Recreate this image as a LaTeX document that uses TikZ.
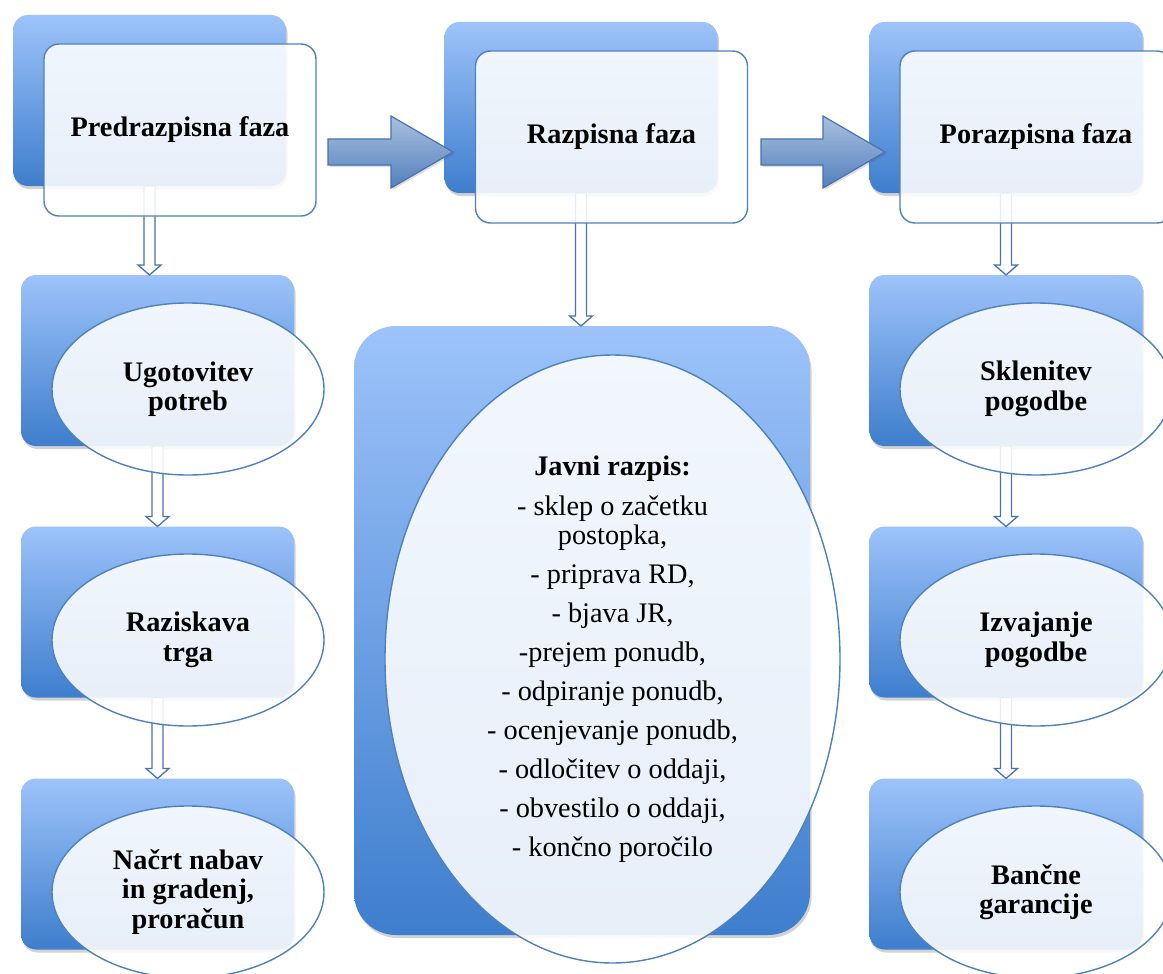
\documentclass[tikz,border=0pt]{standalone}
\usepackage{fontspec}
\setmainfont{Liberation Serif}
\usetikzlibrary{calc,shadows,shapes.geometric}

\definecolor{bgtop}{RGB}{157,195,250}
\definecolor{bgbot}{RGB}{62,126,205}
\definecolor{edgeblue}{RGB}{79,129,189}
\definecolor{arrtop}{RGB}{170,193,222}
\definecolor{arrbot}{RGB}{82,127,190}
\definecolor{arredge}{RGB}{72,114,176}

% wide block arrow between two points on one line
\newcommand{\blockarrow}[2]{%
  \draw[blockarr] ($(#1)+(0,-13)$) -- ($(#2)+(-62,-13)$) -- ($(#2)+(-62,-36)$)
    -- (#2) -- ($(#2)+(-62,36)$) -- ($(#2)+(-62,13)$) -- ($(#1)+(0,13)$) -- cycle;}
% thin hollow arrow pointing down
\newcommand{\hollowarrow}[2]{%
  \draw[hollowarr] ($(#1)+(-5.5,0)$) -- ($(#2)+(-5.5,-10)$) -- ($(#2)+(-11.5,-10)$)
    -- (#2) -- ($(#2)+(11.5,-10)$) -- ($(#2)+(5.5,-10)$) -- ($(#1)+(5.5,0)$) -- cycle;}

\begin{document}
\begin{tikzpicture}[x=1pt, y=-1pt, font=\fontsize{28.3}{29.5}\selectfont\bfseries,
  every node/.style={align=center, inner sep=0pt, outer sep=0pt},
  bgbox/.style={rounded corners=15pt, top color=bgtop, bottom color=bgbot,
    minimum width=273pt, minimum height=171pt,
    drop shadow={shadow xshift=1.5pt, shadow yshift=-3pt, opacity=.25, fill=black!70}},
  card/.style={draw=edgeblue, line width=1.4pt, rounded corners=15pt, fill=white,
    fill opacity=.88, text opacity=1, minimum width=272pt, minimum height=172pt},
  oval/.style={ellipse, draw=edgeblue, line width=1.4pt, fill=white,
    fill opacity=.88, text opacity=1, minimum width=272pt, minimum height=172pt},
  blockarr/.style={draw=arredge, line width=1.2pt, top color=arrtop, bottom color=arrbot,
    drop shadow={shadow xshift=1.5pt, shadow yshift=-2pt, opacity=.2, fill=black!70}},
  hollowarr/.style={draw=arredge, line width=1.3pt, fill=white}]

  \useasboundingbox (0,0) rectangle (1163,974);
  \fill[white] (0,0) rectangle (1163,974);
  \clip (0,0) rectangle (1163,974);

  % background boxes
  \node[bgbox] (predbg) at (149.5,100.5) {};
  \node[bgbox] (razbg) at (581,107.5) {};
  \node[bgbox] (porbg) at (1006,107.5) {};
  \node[bgbox] (ugbg) at (157.5,360.5) {};
  \node[bgbox] (trbg) at (157.5,612) {};
  \node[bgbox] (nacbg) at (157.5,864) {};
  \node[bgbox, rounded corners=42pt, minimum width=456pt, minimum height=609pt] (javbg) at (582,630.5) {};
  \node[bgbox] (sklbg) at (1006,360.5) {};
  \node[bgbox] (izvbg) at (1006,612) {};
  \node[bgbox] (banbg) at (1006,864) {};

  % connectors
  \coordinate (dn1) at (predbg.south |- ugbg.north);
  \coordinate (dn2) at (razbg.south |- javbg.north);
  \hollowarrow{predbg.south}{dn1}
  \hollowarrow{ugbg.south}{trbg.north}
  \hollowarrow{trbg.south}{nacbg.north}
  \hollowarrow{razbg.south}{dn2}
  \hollowarrow{porbg.south}{sklbg.north}
  \hollowarrow{sklbg.south}{izvbg.north}
  \hollowarrow{izvbg.south}{banbg.north}

  \coordinate (go1) at (328,152);
  \coordinate (go1tip) at (453,152);
  \coordinate (go2) at (761,152);
  \coordinate (go2tip) at (885,152);
  \blockarrow{go1}{go1tip}
  \blockarrow{go2}{go2tip}

  % front shapes
  \node[card] (pred) at (180,130) {Predrazpisna faza};
  \node[card] (raz) at (611.5,137) {Razpisna faza};
  \node[card] (por) at (1036,137) {Porazpisna faza};
  \node[oval] (ug) at (188,389) {Ugotovitev\\potreb};
  \node[oval] (tr) at (188,640) {Raziskava\\trga};
  \node[oval] (nac) at (188,892) {Načrt nabav\\in gradenj,\\proračun};
  \node[oval] (skl) at (1036,389) {Sklenitev\\pogodbe};
  \node[oval] (izv) at (1036,640) {Izvajanje\\pogodbe};
  \node[oval] (ban) at (1036,892) {Bančne\\garancije};
  \node[oval, minimum width=455pt, minimum height=608pt, font=\fontsize{28.3}{29}\selectfont] (jav) at (612.5,659)
    {\textbf{Javni razpis:}\\[11pt] - sklep o začetku\\ postopka,\\[10pt] - priprava RD,\\[10pt]
     - bjava JR,\\[10pt] -prejem ponudb,\\[10pt] - odpiranje ponudb,\\[10pt] - ocenjevanje ponudb,\\[10pt]
     - odločitev o oddaji,\\[10pt] - obvestilo o oddaji,\\[10pt] - končno poročilo};
\end{tikzpicture}
\end{document}
